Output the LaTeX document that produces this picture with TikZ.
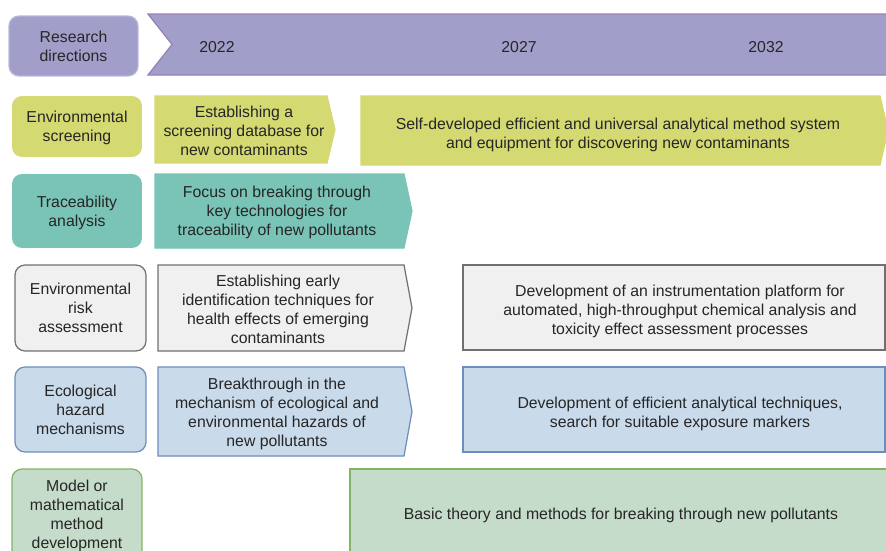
\documentclass[tikz,border=0pt]{standalone}
\usepackage{fontspec}
\setmainfont{Liberation Sans}
\usepackage{tikz}
\usetikzlibrary{positioning}
\definecolor{cHead}{HTML}{A19FCA}
\definecolor{cHeadLine}{HTML}{9A80B6}
\definecolor{cScreen}{HTML}{D4D972}
\definecolor{cTrace}{HTML}{79C4B6}
\definecolor{cRisk}{HTML}{F0F0F0}
\definecolor{cRiskLine}{HTML}{707070}
\definecolor{cEco}{HTML}{C9DAEB}
\definecolor{cEcoLine}{HTML}{6C8EBF}
\definecolor{cModel}{HTML}{C6DCCA}
\definecolor{cModelLine}{HTML}{82B366}
\definecolor{cText}{HTML}{262626}

\tikzset{
  every node/.style={text=cText, font=\fontsize{9}{10.8}\selectfont, text depth=0pt},
  lbl/.style={rectangle, rounded corners=0.2cm, align=center, line width=0.7pt, inner sep=1pt, text depth=-2pt},
  plan/.style={rectangle, line width=0.7pt, inner sep=0pt},
  txt/.style={align=center, inner sep=0pt},
  shp/.style={line width=0.7pt}
}

\begin{document}
\begin{tikzpicture}[x=0.02cm, y=-0.02cm]
  \useasboundingbox (0,0) rectangle (886,551);
  \clip (0,0) rectangle (886,551);

  % header
  \node[lbl, fill=cHead, draw=cHead!75!white, minimum width=2.58cm, minimum height=1.2cm] (head) at (73.5,46) {Research\\directions};
  \draw[shp, fill=cHead, draw=cHeadLine] (148,14) -- (892,14) -- (892,75) -- (148,75) -- (172,44.5) -- cycle;
  \node[txt] (y22) at (217,47) {2022};
  \node[txt] (y27) at (519,47) {2027};
  \node[txt] (y32) at (766,47) {2032};

  % environmental screening
  \node[lbl, fill=cScreen, minimum width=2.6cm, minimum height=1.22cm] (screen) at (77,126.5) {Environmental\\screening};
  \draw[shp, fill=cScreen, draw=cScreen] (155,96) -- (327,96) -- (335,129.5) -- (327,163) -- (155,163) -- cycle;
  \node[txt] (screenA) at (244,131) {Establishing a\\screening database for\\new contaminants};
  \draw[shp, fill=cScreen, draw=cScreen] (361,96) -- (880,96) -- (888,130.5) -- (880,165) -- (361,165) -- cycle;
  \node[txt] (screenB) at (618,133.5) {Self-developed efficient and universal analytical method system\\and equipment for discovering new contaminants};

  % traceability analysis
  \node[lbl, fill=cTrace, minimum width=2.6cm, minimum height=1.48cm] (trace) at (77,211) {Traceability\\analysis};
  \draw[shp, fill=cTrace, draw=cTrace] (155,174) -- (404,174) -- (412,211) -- (404,248) -- (155,248) -- cycle;
  \node[txt] (traceA) at (277,210.5) {Focus on breaking through\\key technologies for\\traceability of new pollutants};

  % environmental risk assessment
  \node[lbl, fill=cRisk, draw=cRiskLine, minimum width=2.62cm, minimum height=1.72cm] (risk) at (80.5,308) {Environmental\\risk\\assessment};
  \draw[shp, fill=cRisk, draw=cRiskLine] (158,265) -- (404,265) -- (412,308) -- (404,351) -- (158,351) -- cycle;
  \node[txt] (riskA) at (278,309) {Establishing early\\identification techniques for\\health effects of emerging\\contaminants};
  \node[plan, fill=cRisk, draw=cRiskLine, minimum width=8.44cm, minimum height=1.7cm] (riskB) at (674,307.5) {};
  \node[txt] (riskBt) at (680,309.5) {Development of an instrumentation platform for\\automated, high-throughput chemical analysis and\\toxicity effect assessment processes};

  % ecological hazard mechanisms
  \node[lbl, fill=cEco, draw=cEcoLine, minimum width=2.62cm, minimum height=1.7cm] (eco) at (80.5,409.5) {Ecological\\hazard\\mechanisms};
  \draw[shp, fill=cEco, draw=cEcoLine] (158,367) -- (404,367) -- (412,411.5) -- (404,456) -- (158,456) -- cycle;
  \node[txt] (ecoA) at (277,412) {Breakthrough in the\\mechanism of ecological and\\environmental hazards of\\new pollutants};
  \node[plan, fill=cEco, draw=cEcoLine, minimum width=8.44cm, minimum height=1.7cm] (ecoB) at (674,409.5) {};
  \node[txt] (ecoBt) at (680,412) {Development of efficient analytical techniques,\\search for suitable exposure markers};

  % model development
  \node[lbl, fill=cModel, draw=cModelLine, minimum width=2.6cm, minimum height=1.82cm] (model) at (77,514.5) {Model or\\mathematical\\method\\development};
  \node[plan, fill=cModel, draw=cModelLine, minimum width=10.8cm, minimum height=1.82cm] (modelB) at (620,514.5) {};
  \node[txt] (modelBt) at (621,514) {Basic theory and methods for breaking through new pollutants};
\end{tikzpicture}
\end{document}
